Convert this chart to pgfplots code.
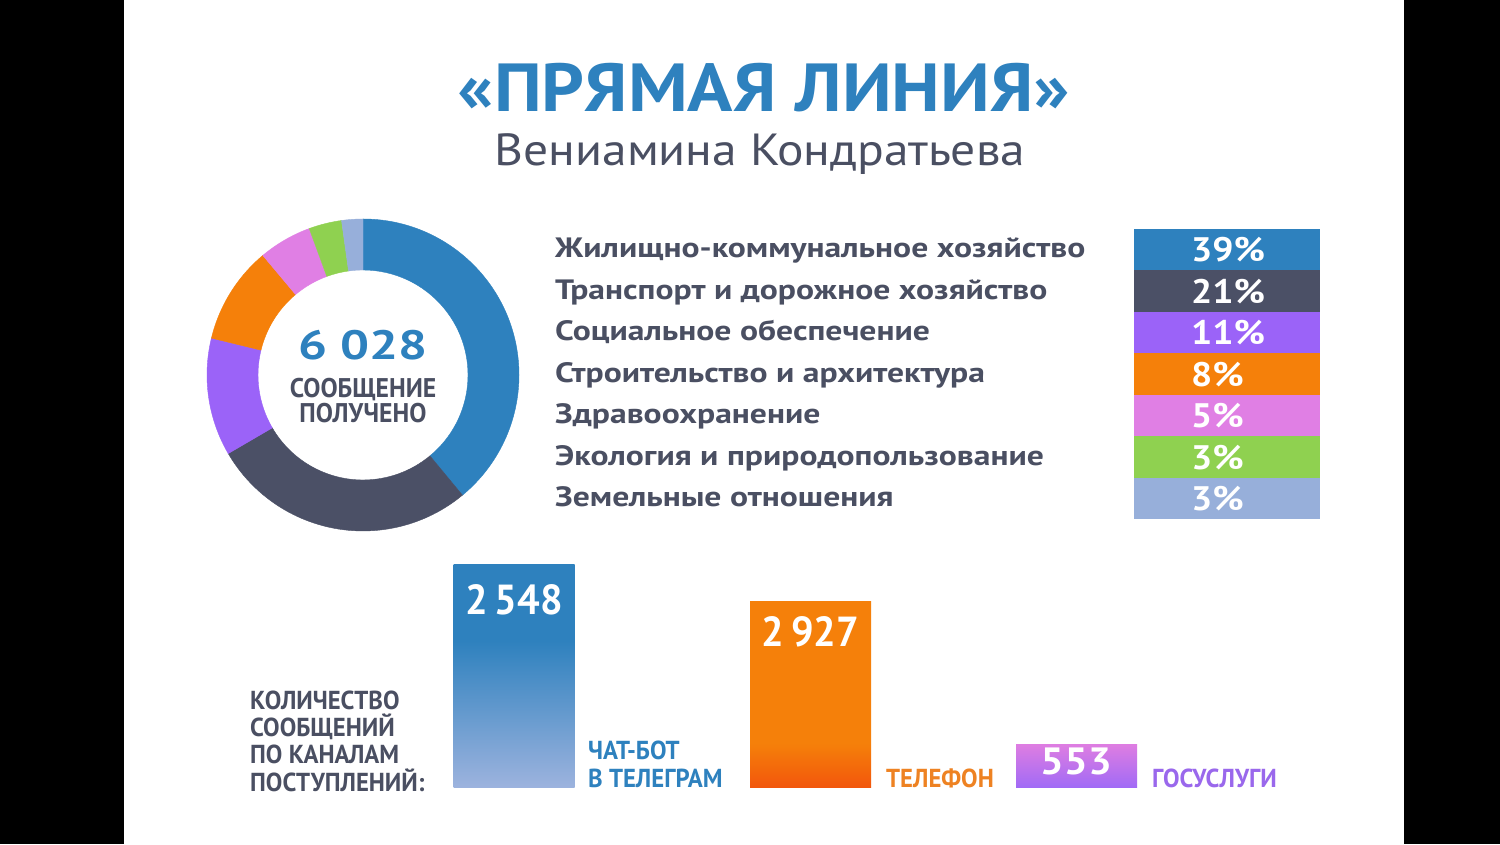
\documentclass[border=0pt]{standalone}
\usepackage{pgfplots}
\pgfplotsset{compat=1.18}
\usepackage{pgfplotstable}
\usepackage{fontspec}
\setmainfont{PT Sans}
\newfontfamily\din[FakeStretch=1.1]{PT Sans}
\newfontfamily\dinlc[FakeStretch=1.2]{PT Sans}
\newfontfamily\dincap[FakeStretch=0.95]{PT Sans}
\newfontfamily\dinnum[FakeStretch=1.25]{PT Sans}

\definecolor{cBlue}{HTML}{2E81BE}
\definecolor{cSlate}{HTML}{4B5066}
\definecolor{cViolet}{HTML}{9B63F8}
\definecolor{cOrange}{HTML}{F5800A}
\definecolor{cPink}{HTML}{E07FE4}
\definecolor{cGreen}{HTML}{8FD150}
\definecolor{cLilac}{HTML}{97AFDA}
\definecolor{cText}{HTML}{4A4F62}
\definecolor{cBlueLt}{HTML}{9DB3DE}
\definecolor{cRed}{HTML}{F2560C}
\definecolor{cMag}{HTML}{DD7DE2}
\definecolor{cPurp}{HTML}{A06AF6}
\definecolor{cGos}{HTML}{9A68EC}
\definecolor{cTel}{HTML}{EE8222}

% bar fills: solid at the top, fading towards the base
\pgfdeclareverticalshading{chatbar}{100bp}{color(0bp)=(cBlueLt); color(25bp)=(cBlueLt); color(58bp)=(cBlue); color(100bp)=(cBlue)}
\pgfdeclareverticalshading{phonebar}{100bp}{color(0bp)=(cRed); color(25bp)=(cRed); color(37bp)=(cOrange); color(100bp)=(cOrange)}
\pgfdeclareverticalshading{gosbar}{100bp}{color(0bp)=(cPurp); color(25bp)=(cPurp); color(75bp)=(cMag); color(100bp)=(cMag)}

% share = arc size in the donut, pct = printed label
\pgfplotstableread[col sep=comma, row sep=\\]{
share,pct,col,name\\
39.0,39,cBlue,Жилищно-коммунальное хозяйство\\
27.6,21,cSlate,Транспорт и дорожное хозяйство\\
12.2,11,cViolet,Социальное обеспечение\\
10.1,8,cOrange,Строительство и архитектура\\
5.5,5,cPink,Здравоохранение\\
3.4,3,cGreen,Экология и природопользование\\
2.2,3,cLilac,Земельные отношения\\
}\topics

\newcommand\catfont{\dinlc\bfseries\fontsize{28}{28}\selectfont}
\newcommand\pctfont{\din\bfseries\fontsize{34}{34}\selectfont}
\newcommand\capfont{\dincap\bfseries\fontsize{26}{26}\selectfont}

\begin{document}
\begin{tikzpicture}[x=1pt, y=1pt]
\useasboundingbox (0,0) rectangle (1500,844);
\fill[black] (0,0) rectangle (1500,844);
\fill[white] (124,0) rectangle (1404,844);

\begin{axis}[at={(0,0)}, anchor=south west, scale only axis,
    width=1500pt, height=844pt, xmin=0, xmax=1500, ymin=0, ymax=844,
    hide axis, clip=false]
\pgfplotstablegetrowsof{\topics}
\pgfmathtruncatemacro\nlast{\pgfplotsretval-1}
\def\angA{90}
\pgfplotsforeachungrouped \k in {0,...,\nlast}{%
  \pgfplotstablegetelem{\k}{share}\of\topics \let\sh\pgfplotsretval
  \pgfplotstablegetelem{\k}{col}\of\topics \let\cl\pgfplotsretval
  \pgfplotstablegetelem{\k}{pct}\of\topics \let\pc\pgfplotsretval
  \pgfplotstablegetelem{\k}{name}\of\topics \let\nm\pgfplotsretval
  \pgfmathsetmacro\angB{\angA-3.6*\sh}
  \pgfmathsetmacro\rowtop{844-229-41.43*\k}
  \pgfmathsetmacro\rowbot{\rowtop-41.43}
  \pgfmathsetmacro\catbase{\rowtop-29}
  \pgfmathsetmacro\pctbase{\rowtop-33}
  \edef\temp{%
    \noexpand\fill[\cl, draw=\cl, line width=0.4pt, shift={(axis cs:363,469)}]
      (\angA:156pt) arc[start angle=\angA, end angle=\angB, radius=156pt]
      -- (\angB:105pt) arc[start angle=\angB, end angle=\angA, radius=105pt] -- cycle;
    \noexpand\fill[\cl] (axis cs:1134,\rowbot) rectangle (axis cs:1320,\rowtop);
    \noexpand\node[anchor=base west, inner sep=0pt, text=white, font=\noexpand\pctfont]
      at (axis cs:1191,\pctbase) {\pc\noexpand\%};
    \noexpand\node[anchor=base west, inner sep=0pt, text=cText, font=\noexpand\catfont]
      at (axis cs:555,\catbase) {\unexpanded\expandafter{\nm}};
  }\temp
  \let\angA\angB
}
% titles
\node[anchor=base, inner sep=0pt, text=cBlue, font=\din\bfseries\fontsize{68}{68}\selectfont]
  at (axis cs:764,732) {«ПРЯМАЯ ЛИНИЯ»};
\node[anchor=base, inner sep=0pt, text=cText, font=\din\fontsize{45}{45}\selectfont]
  at (axis cs:760,678) {Вениамина Кондратьева};
% donut centre
\node[anchor=base, inner sep=0pt, text=cBlue, font=\dinnum\bfseries\fontsize{41}{41}\selectfont]
  at (axis cs:363,484) {6 028};
\node[anchor=base, inner sep=0pt, text=cText, font=\dincap\bfseries\fontsize{27}{27}\selectfont]
  at (axis cs:363,446) {СООБЩЕНИЕ};
\node[anchor=base, inner sep=0pt, text=cText, font=\dincap\bfseries\fontsize{27}{27}\selectfont]
  at (axis cs:363,421) {ПОЛУЧЕНО};
\end{axis}

% channels
\begin{axis}[at={(0,56)}, anchor=south west, scale only axis,
    width=1500pt, height=300pt, xmin=0, xmax=1500, ymin=0, ymax=300,
    hide axis, clip=false, point meta=explicit symbolic, nodes near coords,
    every node near coord/.append style={anchor=base, inner sep=0pt, text=white,
      font=\dincap\bfseries\fontsize{42}{42}\selectfont}]
\addplot[ybar, bar width=121pt, bar shift=0pt, draw=none, shade, shading=chatbar,
    every node near coord/.append style={yshift=-50pt}]
  coordinates {(514,223) [2\kern7pt\relax 548]};
\addplot[ybar, bar width=121pt, bar shift=0pt, draw=none, shade, shading=phonebar,
    every node near coord/.append style={yshift=-45pt}]
  coordinates {(810.5,186) [2\kern7pt\relax 927]};
\addplot[ybar, bar width=121pt, bar shift=0pt, draw=none, shade, shading=gosbar,
    every node near coord/.append style={yshift=-30pt, font=\din\bfseries\fontsize{38}{38}\selectfont}]
  coordinates {(1076.5,43) [553]};
\node[anchor=base west, inner sep=0pt, text=cBlue, font=\capfont] at (axis cs:588,28) {ЧАТ-БОТ};
\node[anchor=base west, inner sep=0pt, text=cBlue, font=\capfont] at (axis cs:588,0) {В ТЕЛЕГРАМ};
\node[anchor=base west, inner sep=0pt, text=cTel, font=\capfont] at (axis cs:886,0) {ТЕЛЕФОН};
\node[anchor=base west, inner sep=0pt, text=cGos, font=\capfont] at (axis cs:1152,0) {ГОСУСЛУГИ};
\node[anchor=base west, inner sep=0pt, text=cText, font=\capfont] at (axis cs:250,-3) {ПОСТУПЛЕНИЙ:};
\node[anchor=base west, inner sep=0pt, text=cText, font=\capfont] at (axis cs:250,24) {ПО КАНАЛАМ};
\node[anchor=base west, inner sep=0pt, text=cText, font=\capfont] at (axis cs:250,51) {СООБЩЕНИЙ};
\node[anchor=base west, inner sep=0pt, text=cText, font=\capfont] at (axis cs:250,78) {КОЛИЧЕСТВО};
\end{axis}
\end{tikzpicture}
\end{document}
